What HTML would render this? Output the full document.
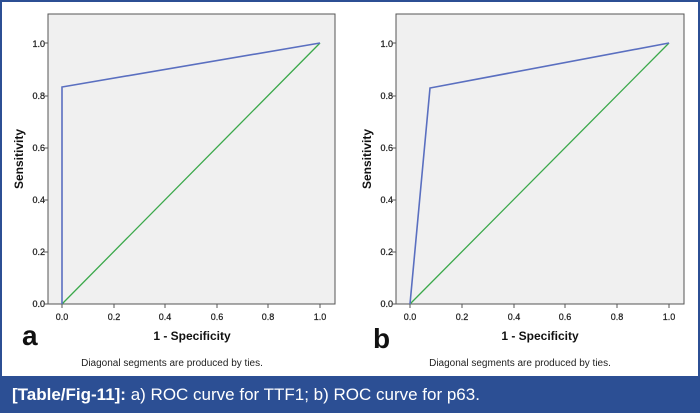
<!DOCTYPE html><html><head><style>body{margin:0;background:#fff}</style></head><body>
<svg width="700" height="413" xmlns="http://www.w3.org/2000/svg" font-family="Liberation Sans, sans-serif">
<rect x="1" y="1" width="698" height="411" fill="#fff" stroke="#2c4f94" stroke-width="2"/>
<g id="a">
<rect x="48" y="14" width="287" height="290" fill="#f0f0f0" stroke="#555" stroke-width="1"/>
<g font-size="9" fill="#222" text-anchor="end" stroke="#222" stroke-width="0.25">
<text x="45" y="307">0.0</text><text x="45" y="255">0.2</text><text x="45" y="203">0.4</text><text x="45" y="151">0.6</text><text x="45" y="99">0.8</text><text x="45" y="47">1.0</text></g>
<g stroke="#555"><line x1="44" y1="304" x2="48" y2="304"/><line x1="44" y1="252" x2="48" y2="252"/><line x1="44" y1="200" x2="48" y2="200"/><line x1="44" y1="148" x2="48" y2="148"/><line x1="44" y1="96" x2="48" y2="96"/><line x1="44" y1="43" x2="48" y2="43"/>
<line x1="62" y1="304" x2="62" y2="308"/><line x1="114" y1="304" x2="114" y2="308"/><line x1="165" y1="304" x2="165" y2="308"/><line x1="217" y1="304" x2="217" y2="308"/><line x1="268" y1="304" x2="268" y2="308"/><line x1="320" y1="304" x2="320" y2="308"/></g>
<g font-size="9" fill="#222" text-anchor="middle" stroke="#222" stroke-width="0.25"><text x="62" y="320">0.0</text><text x="114" y="320">0.2</text><text x="165" y="320">0.4</text><text x="217" y="320">0.6</text><text x="268" y="320">0.8</text><text x="320" y="320">1.0</text></g>
<polyline points="62,304 320,43" fill="none" stroke="#3aa84a" stroke-width="1.3"/>
<polyline points="62,304 62,87 320,43" fill="none" stroke="#5a6fc0" stroke-width="1.6"/>
<text x="192" y="340" font-size="12" font-weight="bold" text-anchor="middle" fill="#111">1 - Specificity</text>
<text transform="translate(23,159) rotate(-90)" font-size="12" font-weight="bold" text-anchor="middle" fill="#111">Sensitivity</text>
<text x="22" y="345" font-size="28" font-weight="bold" fill="#111">a</text>
<text x="172" y="366" font-size="10" text-anchor="middle" fill="#222">Diagonal segments are produced by ties.</text>
</g>
<g id="b">
<rect x="396" y="14" width="288" height="290" fill="#f0f0f0" stroke="#555" stroke-width="1"/>
<g font-size="9" fill="#222" text-anchor="end" stroke="#222" stroke-width="0.25">
<text x="393" y="307">0.0</text><text x="393" y="255">0.2</text><text x="393" y="203">0.4</text><text x="393" y="151">0.6</text><text x="393" y="99">0.8</text><text x="393" y="47">1.0</text></g>
<g stroke="#555"><line x1="392" y1="304" x2="396" y2="304"/><line x1="392" y1="252" x2="396" y2="252"/><line x1="392" y1="200" x2="396" y2="200"/><line x1="392" y1="148" x2="396" y2="148"/><line x1="392" y1="96" x2="396" y2="96"/><line x1="392" y1="43" x2="396" y2="43"/>
<line x1="410" y1="304" x2="410" y2="308"/><line x1="462" y1="304" x2="462" y2="308"/><line x1="514" y1="304" x2="514" y2="308"/><line x1="565" y1="304" x2="565" y2="308"/><line x1="617" y1="304" x2="617" y2="308"/><line x1="669" y1="304" x2="669" y2="308"/></g>
<g font-size="9" fill="#222" text-anchor="middle" stroke="#222" stroke-width="0.25"><text x="410" y="320">0.0</text><text x="462" y="320">0.2</text><text x="514" y="320">0.4</text><text x="565" y="320">0.6</text><text x="617" y="320">0.8</text><text x="669" y="320">1.0</text></g>
<polyline points="410,304 669,43" fill="none" stroke="#3aa84a" stroke-width="1.3"/>
<polyline points="410,304 430,88 669,43" fill="none" stroke="#5a6fc0" stroke-width="1.6"/>
<text x="540" y="340" font-size="12" font-weight="bold" text-anchor="middle" fill="#111">1 - Specificity</text>
<text transform="translate(371,159) rotate(-90)" font-size="12" font-weight="bold" text-anchor="middle" fill="#111">Sensitivity</text>
<text x="373" y="348" font-size="28" font-weight="bold" fill="#111">b</text>
<text x="520" y="366" font-size="10" text-anchor="middle" fill="#222">Diagonal segments are produced by ties.</text>
</g>
<rect x="2" y="376" width="696" height="35" fill="#2c4f94"/>
<text x="12" y="400" font-size="17" fill="#fff"><tspan font-weight="bold">[Table/Fig-11]:</tspan> a) ROC curve for TTF1; b) ROC curve for p63.</text>
</svg>
</body></html>
